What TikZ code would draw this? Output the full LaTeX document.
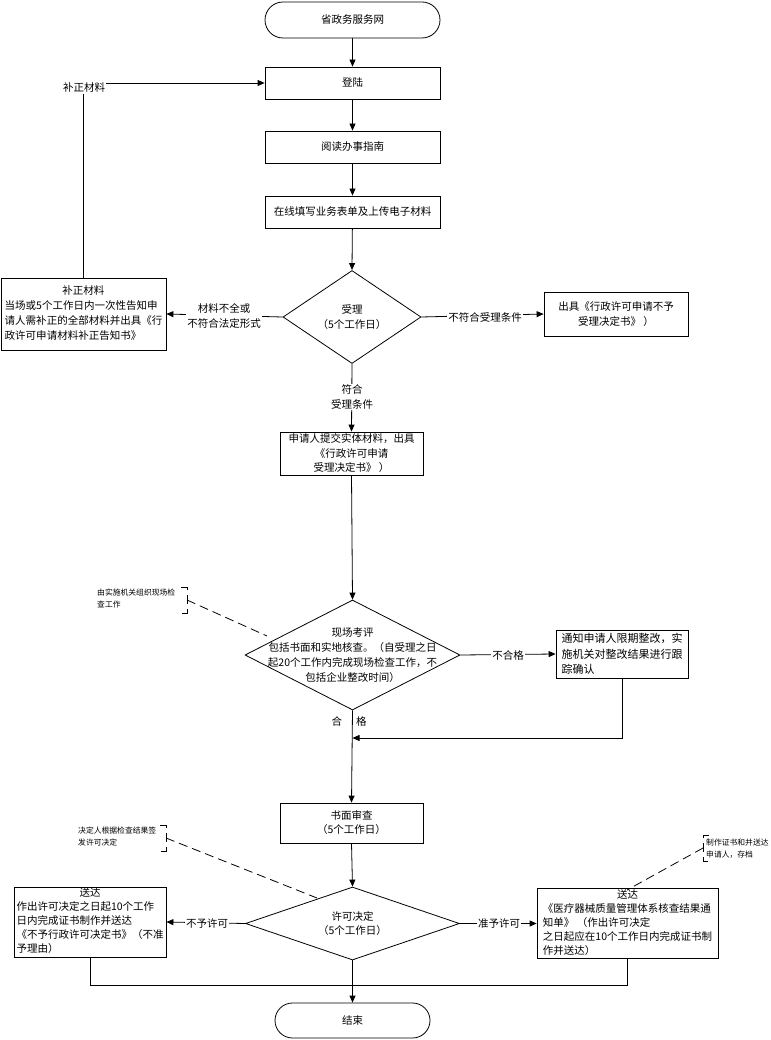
\documentclass[tikz,border=0pt]{standalone}
\usepackage{fontspec}
\setmainfont{Noto Sans CJK SC}
\usetikzlibrary{shapes.geometric,arrows.meta}
\newcommand\myfs{\fontsize{10.5}{15}\selectfont}
\newcommand\myfsb{\fontsize{10.5}{14}\selectfont}
\newcommand\myfsc{\fontsize{11}{15.5}\selectfont}
\newcommand\notefs{\fontsize{7.8}{12}\selectfont}
\newcommand\hdrtab[2]{\begin{tabular}{@{}l@{}}\multicolumn{1}{@{}c@{}}{#1}\\#2\end{tabular}}
\tikzset{
  ln/.style={line width=0.8pt},
  box/.style={draw, rectangle, line width=0.8pt, inner sep=1pt, align=center, font=\myfs},
  term/.style={draw, rectangle, line width=0.8pt, font=\myfs},
  dia/.style={draw, diamond, line width=0.8pt, inner sep=0pt},
  arr/.style={line width=0.8pt, -{Triangle[length=7pt,width=6pt]}},
  lab/.style={fill=white, inner sep=1pt, align=center, font=\myfs},
  ann/.style={line width=0.8pt, dash pattern=on 9pt off 5pt},
  note/.style={font=\notefs, align=left, inner sep=0pt, anchor=west},
}
\begin{document}
\begin{tikzpicture}[x=1pt,y=-1pt]
\useasboundingbox[fill=white] (0,0) rectangle (770,1040);

% main column
\node[term, rounded corners=18pt, minimum width=175pt, minimum height=36pt] (start) at (352.5,20) {省政务服务网};
\node[box, minimum width=175pt, minimum height=32pt] (n1) at (352.5,83) {登陆};
\node[box, minimum width=175pt, minimum height=32pt] (n2) at (352.5,147) {阅读办事指南};
\node[box, minimum width=175pt, minimum height=32pt] (n3) at (352.5,212) {在线填写业务表单及上传电子材料};
\node[dia, minimum width=138pt, minimum height=93pt,
      label={[align=center, font=\myfs]center:受理\\（5个工作日）}] (d1) at (352,317) {};
\node[box, minimum width=165pt, minimum height=72pt] (L1) at (83.5,314)
  {\hdrtab{补正材料}{当场或5个工作日内一次性告知申\\请人需补正的全部材料并出具《行\\政许可申请材料补正告知书》}};
\node[box, minimum width=144pt, minimum height=44pt] (R1) at (616,314) {出具《行政许可申请不予\\受理决定书》 ）};
\node[box, minimum width=143pt, minimum height=43pt, font=\fontsize{10.5}{14.5}\selectfont] (n4) at (351.5,453.5)
  {申请人提交实体材料，出具\\《行政许可申请\\受理决定书》 ）};
\node[dia, minimum width=215pt, minimum height=110pt,
      label={[align=center, font=\myfs]center:现场考评\\包括书面和实地核查。（自受理之日\\起20个工作内完成现场检查工作，不\\包括企业整改时间）}] (d2) at (352.5,655) {};
\node[box, minimum width=132pt, minimum height=48pt, align=left, font=\myfsc] (R2) at (622,654)
  {通知申请人限期整改，实\\施机关对整改结果进行跟\\踪确认};
\coordinate (m) at (352.5,738);
\node[box, minimum width=143pt, minimum height=40pt, font=\fontsize{10.5}{14}\selectfont] (n5) at (351.5,823) {书面审查\\（5个工作日）};
\node[dia, minimum width=214pt, minimum height=73pt,
      label={[align=center, font=\fontsize{10.5}{14.5}\selectfont]center:许可决定\\（5个工作日）}] (d3) at (352.5,923.5) {};
\node[box, minimum width=152pt, minimum height=70pt, font=\myfsb, inner sep=0pt] (L3) at (90,922)
  {\hdrtab{送达}{作出许可决定之日起10个工作\\日内完成证书制作并送达\\《不予行政许可决定书》（不准\\予理由）}};
\node[box, minimum width=181pt, minimum height=67pt, font=\myfsb, inner sep=0pt] (R3) at (627.5,923.5)
  {\hdrtab{送达}{《医疗器械质量管理体系核查结果通\\知单》 （作出许可决定\\之日起应在10个工作日内完成证书制\\作并送达）}};
\coordinate (j) at (352.5,985);
\node[term, rounded corners=17.5pt, minimum width=155pt, minimum height=35pt] (end) at (352.5,1020.5) {结束};

% connectors
\draw[arr] (start) -- (n1);
\draw[arr] (n1) -- (n2);
\draw[arr] (n2) -- (n3);
\draw[arr] (n3) -- (d1.north);
\draw[arr] (d1.west) -- (L1.east);
\node[lab] (lb1) at (224,316) {材料不全或\\不符合法定形式};
\draw[arr] (d1.east) -- (R1.west);
\node[lab] (lb2) at (485,317) {不符合受理条件};
\draw[arr] (L1.north) |- (n1.west);
\node[lab] (lb3) at (84,88) {补正材料};
\draw[arr] (d1.south) -- (n4.north);
\node[lab, font=\fontsize{10.5}{15}\selectfont] (lb4) at (352,397) {符合\\受理条件};
\draw[arr] (n4.south) -- (d2.north);
\draw[arr] (d2.east) -- (R2.west);
\node[lab] (lb5) at (508,655) {不合格};
\draw[arr] (R2.south) |- (m);
\draw[arr] (d2.south) -- (n5.north);
\node[font=\myfs, inner sep=0pt] (lb6) at (349,721) {合\hspace{14pt}格};
\draw[arr] (n5.south) -- (d3.north);
\draw[arr] (d3.west) -- (L3.east);
\node[lab] (lb7) at (207,923) {不予许可};
\draw[arr] (d3.east) -- (R3.west);
\node[lab] (lb8) at (499,923) {准予许可};
\draw[ln] (L3.south) |- (j);
\draw[ln] (R3.south) |- (j);
\draw[arr] (d3.south) -- (end.north);

% annotations
\node[note] (a1) at (97,598) {由实施机关组织现场检\\查工作};
\coordinate (b1) at (187,600);
\coordinate (e1) at (267,636);
\draw[ann] (b1) ++(-6,-13) -- ++(6,0) -- ++(0,26) -- ++(-6,0);
\draw[ann] (b1) -- (e1);

\node[note] (a2) at (78,836.5) {决定人根据检查结果签\\发许可决定};
\coordinate (b2) at (166,838);
\coordinate (e2) at (317,898);
\draw[ann] (b2) ++(-6,-13) -- ++(6,0) -- ++(0,26) -- ++(-6,0);
\draw[ann] (b2) -- (e2);

\node[note] (a3) at (706,849) {制作证书和并送达\\申请人，存档};
\coordinate (b3) at (703,848);
\coordinate (e3) at (627,890);
\draw[ann] (b3) ++(6,-13) -- ++(-6,0) -- ++(0,26) -- ++(6,0);
\draw[ann] (b3) -- (e3);
\end{tikzpicture}
\end{document}
